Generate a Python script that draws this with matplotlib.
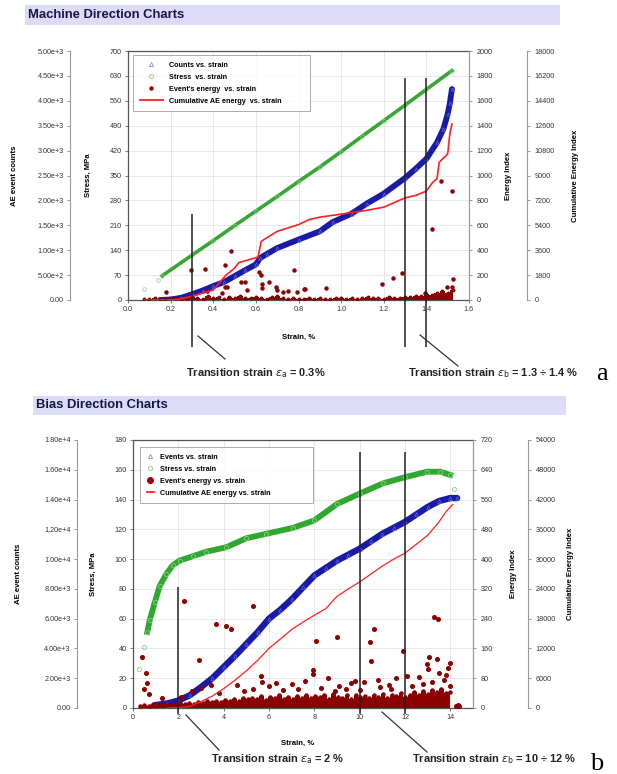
import numpy as np
import matplotlib.pyplot as plt
from matplotlib.lines import Line2D
from matplotlib.patches import Rectangle
from matplotlib.ticker import FuncFormatter

plt.rcParams['font.family'] = ['Liberation Sans', 'DejaVu Sans']
plt.rcParams['mathtext.fontset'] = 'dejavusans'

# ---------------- (a) Machine direction ----------------
md_stress_x = [0.076, 0.14, 0.16, 0.3, 0.4, 0.5, 0.6, 0.7, 0.8, 0.9, 1.0, 1.1, 1.2, 1.3, 1.4, 1.52]
md_stress = [31, 57, 68, 126, 167, 209, 250, 291, 333, 374, 417, 461, 504, 548, 592, 645]

md_cnt_x = [0.15, 0.2, 0.25, 0.3, 0.35, 0.4, 0.45, 0.5, 0.55, 0.6, 0.62, 0.65, 0.7, 0.8, 0.9,
            0.96, 1.05, 1.12, 1.2, 1.3, 1.35, 1.4, 1.45, 1.48, 1.5, 1.51, 1.52]
md_cnt = [0, 10, 45, 114, 190, 279, 360, 479, 600, 714, 843, 920, 1043, 1214, 1379,
          1564, 1736, 1936, 2136, 2450, 2636, 2836, 3164, 3436, 3736, 3950, 4236]

md_cum_x = [0.076, 0.2, 0.24, 0.3, 0.35, 0.4, 0.46, 0.5, 0.52, 0.6, 0.61, 0.625, 0.7, 0.8, 0.85,
            0.9, 0.96, 1.12, 1.2, 1.28, 1.3, 1.35, 1.4, 1.43, 1.45, 1.46, 1.5, 1.51, 1.52]
md_cum = [0, 0, 50, 280, 500, 720, 1800, 2300, 2700, 3060, 3100, 4240, 4960, 5450, 5810,
          5990, 6120, 6480, 6710, 7250, 7380, 7560, 7870, 8510, 8770, 9950, 10570, 12000, 12730]

# event energy: dense band near zero (sampled along strain) + isolated events
md_band = [12, 8, 15, 10, 6, 14, 20, 9, 12, 25, 18, 10, 30, 14, 22, 12, 28, 16, 35, 20,
           14, 26, 18, 12, 22, 30, 15, 10, 18, 12, 8, 14, 10, 16, 12, 9, 18, 14, 10, 20,
           12, 15, 22, 14, 18, 12, 25, 16, 20, 28, 22, 35, 30, 45, 40, 55, 70, 60, 80]
md_dot_x = [0.18, 0.295, 0.36, 0.37, 0.44, 0.457, 0.457, 0.465, 0.483, 0.53, 0.55, 0.56, 0.614,
            0.622, 0.63, 0.63, 0.66, 0.695, 0.70, 0.725, 0.75, 0.78, 0.795, 0.83, 0.827, 0.93,
            1.194, 1.244, 1.284, 1.393, 1.425, 1.469, 1.495, 1.52, 1.52, 1.527]
md_dot = [64, 237, 253, 72, 59, 280, 107, 107, 397, 144, 144, 80, 224,
          197, 125, 99, 147, 107, 77, 64, 72, 240, 64, 85, 88, 93,
          128, 173, 219, 53, 573, 952, 107, 875, 101, 165]
md_trans = [0.3, 1.3, 1.4]

# ---------------- (b) Bias direction ----------------
bd_stress_x = [0.26, 0.47, 0.63, 0.74, 0.96, 1.18, 1.47, 1.76, 2.06, 2.65, 3.24, 4.12, 5.0,
               5.88, 7.06, 8.0, 9.0, 10.0, 11.05, 12.0, 12.97, 13.56, 14.0, 14.14]
bd_stress = [26, 41, 51, 59, 71, 82, 90, 96, 99, 102, 105, 108, 114,
             117, 121, 126, 137, 144, 151, 155, 158.7, 158.7, 156.5, 147]

bd_cnt_x = [1.0, 1.5, 2.0, 2.5, 3.0, 3.5, 4.0, 4.5, 5.0, 5.5, 6.0, 6.5, 7.0, 7.5, 8.0, 8.5,
            9.0, 9.5, 10.0, 10.5, 11.0, 11.5, 12.0, 12.5, 13.0, 13.5, 14.0, 14.3]
bd_cnt = [200, 300, 500, 850, 1400, 2000, 2750, 3500, 4300, 5100, 6000, 6600, 7300, 8100, 8900, 9400,
          9900, 10300, 10700, 11200, 11700, 12100, 12500, 13000, 13500, 13900, 14100, 14100]

bd_cum_x = [1.5, 2.0, 2.5, 3.0, 3.5, 4.0, 4.5, 5.0, 5.5, 6.0, 6.5, 7.0, 7.5, 8.0, 8.5, 9.0,
            9.5, 10.0, 10.5, 11.0, 11.5, 12.0, 12.5, 13.0, 13.5, 13.8, 14.1]
bd_cum = [0, 100, 300, 1300, 2400, 3900, 5600, 7500, 9600, 12000, 13900, 15800, 17300, 18700, 20000, 22500,
          24000, 25400, 27000, 28600, 30000, 31200, 33000, 34800, 37500, 39500, 41000]

bd_band = [5, 7, 6, 10, 8, 11, 7, 12, 10, 13, 11, 14, 12, 16, 13, 18, 17, 20, 16, 22,
           18, 24, 20, 26, 23, 28, 24, 31, 22, 29, 26, 34, 25, 30, 23, 32, 28, 36, 26, 31,
           29, 35, 24, 37, 30, 28, 34, 25, 36, 29, 32, 26, 35, 30, 37, 28, 34, 31, 40, 29,
           36, 43, 35, 46, 38, 48, 42, 50, 40, 44]
bd_dot_x = [0.41, 0.59, 0.63, 0.47, 0.7, 2.25, 2.9, 3.46, 3.68, 4.12, 4.34, 5.29, 5.66, 7.94,
            7.94, 8.06, 8.99, 10.46, 10.64, 10.5, 11.89, 13.26, 13.45, 13.08, 12.95, 13.4, 14.0,
            4.6, 5.7, 6.0, 6.3, 7.0, 7.6, 8.6, 9.1, 9.6, 10.2, 10.8, 11.3, 12.1, 12.6, 13.0,
            13.5, 13.8, 13.9, 3.0, 2.6, 11.6, 9.8, 14.25, 14.35, 14.4,
            3.8, 4.9, 5.3, 6.6, 7.3, 8.3, 8.9, 9.4, 10.0, 10.9, 11.4, 12.3, 12.8, 13.2,
            13.7, 14.0, 2.1, 1.3]
bd_dot = [137, 94, 67, 52, 38, 287, 128, 63, 226, 221, 213, 273, 85, 101,
          92, 180, 190, 178, 211, 127, 154, 244, 240, 138, 118, 132, 120,
          62, 70, 58, 66, 64, 72, 80, 60, 66, 70, 74, 62, 86, 84, 104,
          94, 90, 108, 55, 45, 80, 72, 6, 8, 5,
          40, 45, 52, 48, 50, 55, 46, 52, 48, 56, 50, 60, 64, 70,
          76, 58, 30, 28]
bd_trans = [2, 10, 12]

W, H = 617.0, 774.0


def fx(px):
    return px / W


def fy(py):
    return 1 - py / H


def cnt_fmt(v, pos):
    if v <= 0:
        return '0.00'
    e = int(np.floor(np.log10(v) + 1e-9))
    return '%.2fe+%d' % (v / 10 ** e, e)


def make_axes(fig, box, xlim, xticks, xfmt, slim, sstep, clim, cstep, elim, estep, ulim, ustep,
              offl, offr, labpos):
    l, t, r, b = box
    ax = fig.add_axes([fx(l), fy(b), fx(r) - fx(l), fy(t) - fy(b)])
    ax.set_xlim(xlim)
    ax.set_xticks(xticks)
    ax.xaxis.set_major_formatter(FuncFormatter(lambda v, p: xfmt % v))
    ax.set_ylim(0, slim)
    ax.set_yticks(np.arange(0, slim + 1, sstep))
    ax.grid(True, color='#e4e4e4', lw=0.6)
    ax.set_axisbelow(True)
    for s in ['left', 'bottom', 'top']:
        ax.spines[s].set_color('#555555')
        ax.spines[s].set_linewidth(0.9)
    ax.spines['right'].set_color('#999999')
    ax.tick_params(labelsize=5.2, length=2.5, width=0.6, color='#666666', labelcolor='#333333', pad=2)
    ax.set_ylabel('Stress, MPa', fontsize=5.6, fontweight='bold')
    ax.yaxis.set_label_coords(labpos[1], 0.5)
    ax.set_xlabel('Strain, %', fontsize=5.6, fontweight='bold')
    ax.xaxis.set_label_coords(labpos[4], labpos[5])

    axc = ax.twinx()
    axc.yaxis.tick_left()
    axc.yaxis.set_label_position('left')
    for s in ['right', 'top', 'bottom']:
        axc.spines[s].set_visible(False)
    axc.spines['left'].set_visible(True)
    axc.spines['left'].set_position(('axes', offl))
    axc.spines['left'].set_color('#999999')
    axc.set_ylim(0, clim)
    axc.set_yticks(np.arange(0, clim + 1, cstep))
    axc.yaxis.set_major_formatter(FuncFormatter(cnt_fmt))
    axc.tick_params(labelsize=5.2, length=2.5, width=0.6, color='#888888', labelcolor='#333333', pad=2)
    axc.set_ylabel('AE event counts', fontsize=5.6, fontweight='bold')
    axc.yaxis.set_label_coords(labpos[0], 0.5)

    axe = ax.twinx()
    for s in ['left', 'top', 'bottom']:
        axe.spines[s].set_visible(False)
    axe.spines['right'].set_color('#999999')
    axe.set_ylim(0, elim)
    axe.set_yticks(np.arange(0, elim + 1, estep))
    axe.tick_params(labelsize=5.2, length=2.5, width=0.6, color='#888888', labelcolor='#333333', pad=3)
    axe.set_ylabel('Energy Index', fontsize=5.6, fontweight='bold')
    axe.yaxis.set_label_coords(labpos[2], 0.5)

    axu = ax.twinx()
    for s in ['left', 'top', 'bottom']:
        axu.spines[s].set_visible(False)
    axu.spines['right'].set_position(('axes', offr))
    axu.spines['right'].set_color('#999999')
    axu.set_ylim(0, ulim)
    axu.set_yticks(np.arange(0, ulim + 1, ustep))
    axu.tick_params(labelsize=5.2, length=2.5, width=0.6, color='#888888', labelcolor='#333333', pad=3)
    axu.set_ylabel('Cumulative Energy Index', fontsize=5.6, fontweight='bold')
    axu.yaxis.set_label_coords(labpos[3], 0.5)
    return ax, axc, axe, axu


def banner(fig, l, t, r, b, text):
    fig.add_artist(Rectangle((fx(l), fy(b)), fx(r) - fx(l), fy(t) - fy(b),
                             transform=fig.transFigure, color='#dcdcf8', lw=0))
    fig.text(fx(l + 3), fy((t + b) / 2), text, fontsize=9.4, fontweight='bold',
             color='#15154a', va='center', ha='left')


def fig_line(fig, x1, y1, x2, y2):
    fig.add_artist(Line2D([fx(x1), fx(x2)], [fy(y1), fy(y2)], transform=fig.transFigure,
                          color='#333333', lw=0.9))


def legend(axu, labels, box, hlen, dot_ms):
    hs = [Line2D([], [], ls='none', marker='^', ms=3, mfc='none', mec='#8c8cd0', mew=0.6),
          Line2D([], [], ls='none', marker='o', ms=3, mfc='none', mec='#8ccc8c', mew=0.6),
          Line2D([], [], ls='none', marker='o', ms=dot_ms, color='#a00000'),
          Line2D([], [], color='#ff2020', lw=1.3)]
    lg = axu.legend(hs, labels, loc='upper left', bbox_to_anchor=box, mode='expand',
                    borderaxespad=0, fancybox=False, edgecolor='#888888',
                    prop={'weight': 'bold', 'size': 5.2}, handlelength=hlen, handletextpad=0.8,
                    labelspacing=0.7, borderpad=0.9)
    lg.get_frame().set_linewidth(0.6)
    lg.set_zorder(20)


fig = plt.figure(figsize=(6.17, 7.74), dpi=100)

# ---------------- panel a ----------------
banner(fig, 25, 5, 560, 25, 'Machine Direction Charts')
ax, axc, axe, axu = make_axes(fig, (128, 51, 469, 300), (0, 1.6), np.arange(0, 1.61, 0.2), '%.1f',
                              700, 70, 5000, 500, 2000, 200, 18000, 1800, -0.170, 1.170,
                              (-0.323, -0.106, 1.106, 1.302, 0.50, -0.135))
ax.plot(md_stress_x[2:], md_stress[2:], color='#37a637', lw=2.6, zorder=3)
ax.plot(md_stress_x, md_stress, ls='none', marker='o', ms=2.6, mfc='none', mec='#86d086', mew=0.5, zorder=4)
axc.plot(md_cnt_x, md_cnt, color='#1a1aa8', lw=4.2, solid_capstyle='round')
axc.plot(md_cnt_x, md_cnt, ls='none', marker='^', ms=2.4, mfc='none', mec='#6a6ad8', mew=0.5)
band_x = np.linspace(0.075, 1.525, len(md_band))
axe.fill_between(band_x, 0, md_band, step='mid', color='#8b0000', lw=0)
axe.plot(band_x, md_band, ls='none', marker='o', ms=1.8, color='#8b0000')
axe.plot(md_dot_x, md_dot, ls='none', marker='o', ms=2.2, color='#8b0000')
axu.plot(md_cum_x, md_cum, color='#ff2020', lw=1.2)
axu.vlines(md_trans, [-0.189, -0.189, -0.189], [0.345, 0.892, 0.892],
           transform=axu.get_xaxis_transform(), clip_on=False, color='#222222', lw=1.1, zorder=15)
legend(axu, ['Counts vs. strain', 'Stress  vs. strain', "Event's energy  vs. strain",
             'Cumulative AE energy  vs. strain'], (0.015, 0.739, 0.519, 0.245), 3.2, 2.2)

fig_line(fig, 198, 336, 225, 359)
fig_line(fig, 420, 335, 458, 366)
fig.text(fx(186), fy(373), r'Transition strain $\varepsilon_\mathrm{a}$ = 0.3%', fontsize=7.9,
         fontweight='bold', va='center', ha='left', color='#222222')
fig.text(fx(408), fy(373), r'Transition strain $\varepsilon_\mathrm{b}$ = 1.3 ÷ 1.4 %', fontsize=7.9,
         fontweight='bold', va='center', ha='left', color='#222222')
fig.text(fx(596), fy(380), 'a', fontsize=19, family='Liberation Serif', va='baseline', ha='left')

# ---------------- panel b ----------------
banner(fig, 33, 396, 566, 415, 'Bias Direction Charts')
bx, bxc, bxe, bxu = make_axes(fig, (133, 440, 473, 708), (0, 15), np.arange(0, 15, 2), '%d',
                              180, 20, 18000, 2000, 720, 80, 54000, 6000, -0.165, 1.162,
                              (-0.326, -0.106, 1.109, 1.276, 0.485, -0.119))
bx.plot(bd_stress_x[2:-1], bd_stress[2:-1], color='#2ea82e', lw=4.2, zorder=3)
bx.plot(bd_stress_x, bd_stress, ls='none', marker='o', ms=3, mfc='none', mec='#86d086', mew=0.6, zorder=4)
bxc.plot(bd_cnt_x, bd_cnt, color='#1a1aa8', lw=4.6, solid_capstyle='round')
bxc.plot(bd_cnt_x, bd_cnt, ls='none', marker='^', ms=2.6, mfc='none', mec='#6a6ad8', mew=0.5)
band_x = np.linspace(0.3, 14.0, len(bd_band))
bxe.fill_between(band_x, 0, bd_band, step='mid', color='#8b0000', lw=0)
bxe.plot(band_x, bd_band, ls='none', marker='o', ms=2.2, color='#8b0000')
bxe.plot(bd_dot_x, bd_dot, ls='none', marker='o', ms=2.6, color='#8b0000')
bxu.plot(bd_cum_x, bd_cum, color='#ff2020', lw=0.9)
bxu.vlines(bd_trans, [-0.022, -0.022, -0.022], [0.451, 0.955, 0.955],
           transform=bxu.get_xaxis_transform(), clip_on=False, color='#222222', lw=1.1, zorder=15)
legend(bxu, ['Events vs. strain', 'Stress vs. strain', "Event's energy vs. strain",
             'Cumulative AE energy vs. strain'], (0.021, 0.75, 0.509, 0.224), 1.0, 4)

fig_line(fig, 186, 715, 219, 750)
fig_line(fig, 382, 712, 427, 752)
fig.text(fx(211), fy(759), r'Transition strain $\varepsilon_\mathrm{a}$ = 2 %', fontsize=7.9,
         fontweight='bold', va='center', ha='left', color='#222222')
fig.text(fx(412), fy(759), r'Transition strain $\varepsilon_\mathrm{b}$ = 10 ÷ 12 %', fontsize=7.9,
         fontweight='bold', va='center', ha='left', color='#222222')
fig.text(fx(590), fy(770), 'b', fontsize=19, family='Liberation Serif', va='baseline', ha='left')

fig.savefig('out.png', dpi=100)
